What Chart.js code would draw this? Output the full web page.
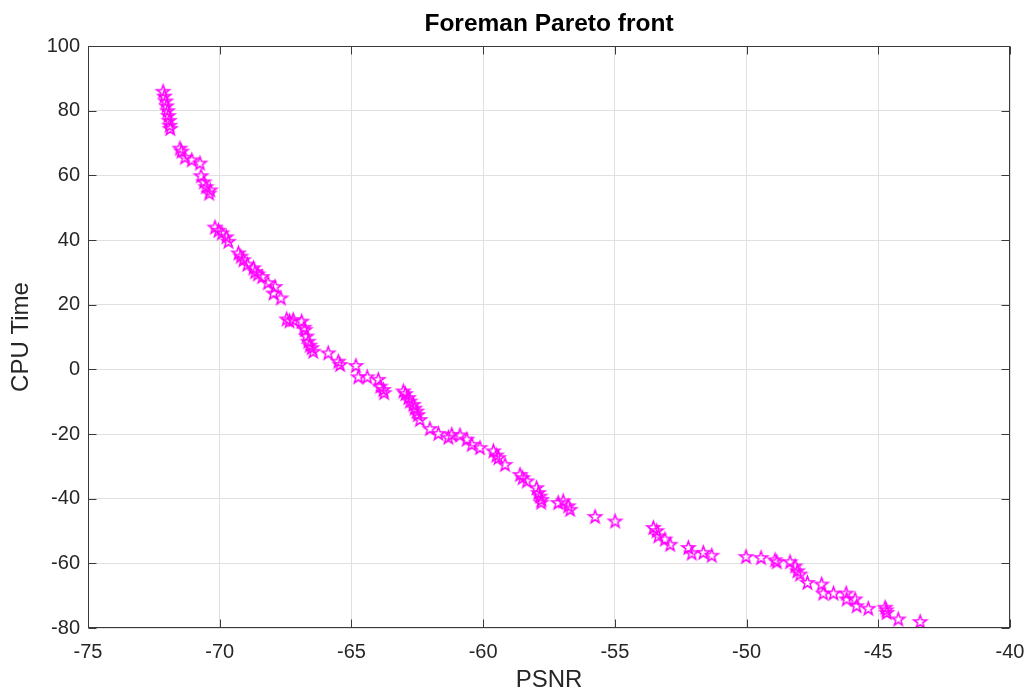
<!DOCTYPE html>
<html><head><meta charset="utf-8">
<script src="https://cdn.jsdelivr.net/npm/chart.js@4/dist/chart.umd.min.js"></script>
<style>html,body{margin:0;padding:0;background:#fff;overflow:hidden}#wrap{width:1031px;height:692px}</style>
</head><body><div id="wrap"><canvas id="c" width="1031" height="692"></canvas></div>
<script>
const psnr = [
 -72.15,-72.10,-72.05,-72.02,-71.98,-71.95,-71.92,-71.90,-71.88,
 -71.51,-71.45,-71.32,-71.06,-70.75,-70.71,-70.60,-70.52,-70.40,-70.36,
 -70.18,-70.05,-69.92,-69.75,-69.67,-69.29,-69.20,-69.10,-68.95,-68.72,-68.66,-68.55,-68.39,-68.17,-67.90,-67.96,-67.68,
 -67.46,-67.35,-67.21,-66.89,-66.80,-66.76,-66.70,-66.64,-66.58,-66.51,-66.45,-65.88,-65.50,-65.43,
 -64.83,-64.74,-64.40,-63.98,-63.91,-63.79,-63.76,
 -63.03,-62.95,-62.84,-62.78,-62.65,-62.60,-62.52,-62.48,-62.40,-62.02,-61.70,-61.32,-61.19,-60.88,-60.62,-60.43,-60.12,-59.61,-59.50,-59.42,-59.17,-58.60,-58.50,-58.34,-57.97,-57.90,-57.84,-57.78,-57.80,
 -57.15,-56.96,-56.77,-56.70,-55.75,-54.99,
 -53.54,-53.41,-53.35,-53.10,-52.90,-52.21,-52.08,-51.64,-51.32,
 -50.02,-49.45,-48.92,-48.85,-48.35,-48.16,-48.07,-47.97,-47.69,-47.15,-47.09,-46.70,-46.22,-46.20,-45.88,-45.82,-45.38,-44.74,-44.70,-44.68,-44.24,-43.41
];
const cpuTime = [
 86.0,84.5,83.0,81.5,80.0,78.5,77.0,75.5,74.5,
 68.4,67.5,65.6,64.8,63.8,59.9,58.0,56.5,54.5,55.5,
 44.0,43.0,42.2,41.0,39.6,36.0,35.0,33.9,32.5,31.4,30.2,29.5,28.7,26.8,25.6,23.6,22.1,
 15.6,15.0,15.4,14.9,13.0,12.3,10.3,8.7,7.5,6.7,5.6,5.1,2.5,1.5,
 1.2,-2.3,-2.3,-3.1,-5.2,-6.2,-7.2,
 -6.7,-7.5,-8.7,-9.8,-10.8,-12.0,-12.9,-14.0,-15.5,-18.3,-19.8,-21.0,-20.1,-20.3,-21.6,-23.2,-24.2,-25.2,-26.5,-27.3,-29.4,-32.5,-33.5,-34.5,-36.6,-38.1,-39.2,-40.2,-41.1,
 -41.2,-40.7,-42.2,-43.3,-45.5,-46.9,
 -48.9,-49.9,-51.5,-52.5,-54.1,-55.1,-56.8,-56.6,-57.5,
 -57.9,-58.2,-58.9,-59.5,-59.5,-60.8,-62.3,-63.3,-65.9,-66.4,-69.2,-69.2,-69.2,-71.0,-71.0,-73.1,-73.9,-73.6,-74.4,-75.2,-77.2,-78.0
];
const xTicks = [-75,-70,-65,-60,-55,-50,-45,-40];
const yTicks = [-80,-60,-40,-20,0,20,40,60,80,100];
const chartTitle = 'Foreman Pareto front';

function makeStar(r, color, lw){
  const size = Math.ceil(2*r + lw*2 + 2);
  const c = document.createElement('canvas'); c.width = c.height = size;
  const g = c.getContext('2d'); const cx = size/2, cy = size/2 + r*0.08;
  g.beginPath();
  for (let i=0;i<10;i++){ const rad = i%2===0 ? r : r*0.4; const a = -Math.PI/2 + i*Math.PI/5; g.lineTo(cx+rad*Math.cos(a), cy+rad*Math.sin(a)); }
  g.closePath(); g.strokeStyle = color; g.lineWidth = lw; g.lineJoin='miter'; g.stroke();
  return c;
}
const star = makeStar(6.8, '#ff00ff', 1.5);
const font = "'Liberation Sans', Arial, Helvetica, sans-serif";

const frame = {
  id:'frame',
  afterDatasetsDraw(chart){
    const {ctx, chartArea:a, scales:{x,y}} = chart;
    ctx.save();
    ctx.strokeStyle = '#3a3a3a'; ctx.lineWidth = 1;
    const L=Math.round(a.left)+0.5, R=Math.round(a.right)-0.5, T=Math.round(a.top)+0.5, B=Math.round(a.bottom)-0.5;
    ctx.strokeRect(L, T, R-L, B-T);
    const tl = 8;
    ctx.beginPath();
    xTicks.forEach(v=>{ const px=Math.round(x.getPixelForValue(v))+0.5; ctx.moveTo(px,B); ctx.lineTo(px,B-tl); ctx.moveTo(px,T); ctx.lineTo(px,T+tl); });
    yTicks.forEach(v=>{ const py=Math.round(y.getPixelForValue(v))+0.5; ctx.moveTo(L,py); ctx.lineTo(L+tl,py); ctx.moveTo(R,py); ctx.lineTo(R-tl,py); });
    ctx.stroke();
    // title centred over the axes
    ctx.fillStyle = '#000';
    ctx.font = "bold 24.5px " + font;
    ctx.textAlign = 'center'; ctx.textBaseline = 'alphabetic';
    ctx.fillText(chartTitle, (a.left + a.right)/2, a.top - 15);
    ctx.restore();
  }
};

new Chart(document.getElementById('c'), {
  type:'scatter',
  data:{ datasets:[{ data: psnr.map((v,i)=>({x:v, y:cpuTime[i]})), pointStyle: star, pointRadius: 6, showLine:false }] },
  options:{
    responsive:false, animation:false, devicePixelRatio:1,
    layout:{ padding:{ left:0, right:21, top:46, bottom:0 } },
    plugins:{ legend:{display:false}, tooltip:{enabled:false}, title:{display:false} },
    scales:{
      x:{ type:'linear', min:-75, max:-40,
        afterBuildTicks(s){ s.ticks = xTicks.map(v=>({value:v})); },
        afterFit(s){ s.height = 64; s.paddingLeft = 0; s.paddingRight = 0; },
        grid:{ color:'#e0e0e0', lineWidth:1, drawTicks:false },
        border:{ display:false },
        ticks:{ color:'#262626', font:{family:font, size:20, lineHeight:1}, padding:14, maxRotation:0, autoSkip:false },
        title:{ display:true, text:'PSNR', color:'#262626', font:{family:font, size:24, lineHeight:1}, padding:{top:0,bottom:0} }
      },
      y:{ type:'linear', min:-80, max:100,
        afterBuildTicks(s){ s.ticks = yTicks.map(v=>({value:v})); },
        afterFit(s){ s.width = 88; s.paddingTop = 0; s.paddingBottom = 0; },
        grid:{ color:'#e0e0e0', lineWidth:1, drawTicks:false },
        border:{ display:false },
        ticks:{ color:'#262626', font:{family:font, size:20, lineHeight:1}, padding:8, autoSkip:false },
        title:{ display:true, text:'CPU Time', color:'#262626', font:{family:font, size:24, lineHeight:1}, padding:{top:9,bottom:0} }
      }
    }
  },
  plugins:[frame]
});
</script></body></html>
